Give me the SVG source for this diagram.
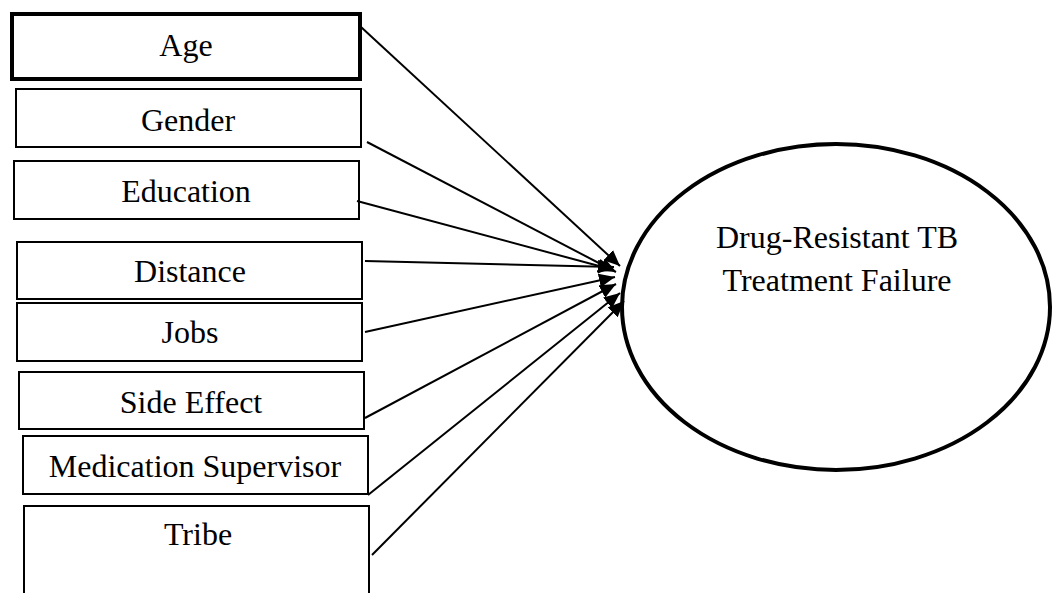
<svg xmlns="http://www.w3.org/2000/svg" width="1053" height="593" viewBox="0 0 1053 593">
<style>
.box{fill:#fff;stroke:#000;stroke-width:2}
.lbl{font-family:"Liberation Serif","Times New Roman",serif;font-size:32px;fill:#000;text-anchor:middle}
.conn{stroke:#000;stroke-width:2;fill:none;marker-end:url(#ah)}
</style>
<defs>
<marker id="ah" markerUnits="userSpaceOnUse" markerWidth="18" markerHeight="14" refX="16" refY="7" orient="auto">
<path d="M0,0 L16,7 L0,14 Z" fill="#000"/>
</marker>
</defs>
<rect width="1053" height="593" fill="#fff"/>
<g id="age"><rect class="box" x="12" y="14" width="348" height="65" style="stroke-width:4"/><text class="lbl" x="186" y="56">Age</text></g>
<g id="gender"><rect class="box" x="16" y="89" width="345" height="58"/><text class="lbl" x="188" y="131">Gender</text></g>
<g id="education"><rect class="box" x="14" y="161" width="345" height="58"/><text class="lbl" x="186" y="202">Education</text></g>
<g id="distance"><rect class="box" x="17" y="242" width="345" height="57"/><text class="lbl" x="190" y="282">Distance</text></g>
<g id="jobs"><rect class="box" x="17" y="303" width="345" height="58"/><text class="lbl" x="190" y="343">Jobs</text></g>
<g id="side-effect"><rect class="box" x="19" y="372" width="345" height="57"/><text class="lbl" x="191" y="413">Side Effect</text></g>
<g id="medication-supervisor"><rect class="box" x="23" y="436" width="345" height="58"/><text class="lbl" x="195" y="477">Medication Supervisor</text></g>
<g id="tribe"><rect class="box" x="24" y="506" width="345" height="100"/><text class="lbl" x="198" y="545">Tribe</text></g>
<g id="outcome"><ellipse cx="836" cy="307" rx="214" ry="163" fill="#fff" stroke="#000" stroke-width="4"/><text class="lbl" x="837" y="248">Drug-Resistant TB</text><text class="lbl" x="837" y="291">Treatment Failure</text></g>
<g id="connectors">
<line class="conn" x1="361" y1="27" x2="620" y2="266"/>
<line class="conn" x1="367" y1="142" x2="616" y2="272"/>
<line class="conn" x1="357" y1="201" x2="614" y2="270"/>
<line class="conn" x1="365" y1="261" x2="614" y2="267"/>
<line class="conn" x1="365" y1="332" x2="615" y2="277"/>
<line class="conn" x1="365" y1="418" x2="616" y2="284"/>
<line class="conn" x1="368" y1="495" x2="620" y2="293"/>
<line class="conn" x1="372" y1="555" x2="624" y2="301"/>
</g>
</svg>
